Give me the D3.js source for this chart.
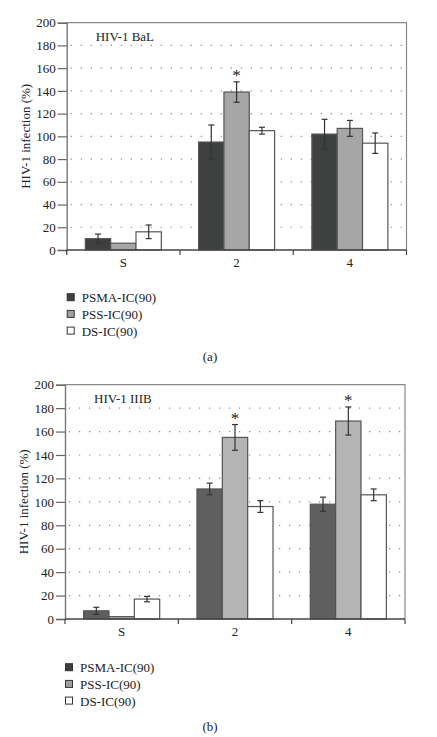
<!DOCTYPE html>
<html><head><meta charset="utf-8">
<script src="https://cdn.jsdelivr.net/npm/d3@7"></script>
<style>body{margin:0;background:#fff}svg{display:block}text{font-family:"Liberation Serif","Times New Roman",serif;fill:#222}</style>
</head><body>
<script>
const categories = ["S", "2", "4"];
const seriesNames = ["PSMA-IC(90)", "PSS-IC(90)", "DS-IC(90)"];
const yTicks = [0, 20, 40, 60, 80, 100, 120, 140, 160, 180, 200];

// Panel (a): HIV-1 BaL
const balPSMA = [10, 95, 102];
const balPSS = [6, 139, 107];
const balDS = [16, 105, 94];
const balPSMAerr = [4, 15, 13];
const balPSSerr = [0, 9, 7];
const balDSerr = [6, 3, 9];
const balStars = [[1, 1]]; // [category index, series index]

// Panel (b): HIV-1 IIIB
const iiibPSMA = [7, 111, 98];
const iiibPSS = [2, 155, 169];
const iiibDS = [17, 96, 106];
const iiibPSMAerr = [3, 5, 6];
const iiibPSSerr = [0, 11, 12];
const iiibDSerr = [2.3, 5, 5];
const iiibStars = [[1, 1], [2, 1]];

const svg = d3.select("body").append("svg").attr("width", 437).attr("height", 737);

function panel(cfg) {
  const g = svg.append("g");
  const y = d3.scaleLinear().domain([0, 200]).range([cfg.bottom, cfg.top]);
  const x = d3.scaleBand().domain(categories).range([cfg.left, cfg.right]).paddingInner(0.329).paddingOuter(0.1645);
  const xs = d3.scaleBand().domain(d3.range(3)).range([0, x.bandwidth()]).padding(0);
  const step = x.step();

  // gridlines
  g.selectAll("line.grid").data(yTicks.filter(t => t > 0 && t < 200)).join("line")
    .attr("x1", cfg.left + 4).attr("x2", cfg.right)
    .attr("y1", d => y(d)).attr("y2", d => y(d))
    .attr("stroke", "#8a8a8a").attr("stroke-width", 1.2).attr("stroke-dasharray", "1.2,8.8");

  // frame top & right
  g.append("path").attr("d", `M${cfg.left},${cfg.top}H${cfg.right}V${cfg.bottom}`)
    .attr("fill", "none").attr("stroke", "#888").attr("stroke-width", 1.2);

  // y axis
  const ya = g.append("g").attr("transform", `translate(${cfg.left},0)`)
    .call(d3.axisLeft(y).tickValues(yTicks).tickSize(9).tickPadding(2));
  ya.select(".domain").attr("stroke", "#777").attr("stroke-width", 1.4);
  ya.selectAll(".tick line").attr("stroke", "#666").attr("stroke-width", 1.2);
  ya.selectAll(".tick text").attr("font-size", 13).attr("fill", "#222").attr("font-family", "Liberation Serif, serif");

  // bars
  const vals = cfg.values, errs = cfg.errs;
  vals.forEach((arr, si) => {
    g.selectAll(null).data(arr).join("rect")
      .attr("x", (d, ci) => x(categories[ci]) + xs(si))
      .attr("width", xs.bandwidth())
      .attr("y", d => y(d)).attr("height", d => y(0) - y(d))
      .attr("fill", cfg.colors[si]).attr("stroke", "#555").attr("stroke-width", 1.2);
  });

  // x axis
  g.append("line").attr("x1", cfg.left).attr("x2", cfg.right).attr("y1", y(0)).attr("y2", y(0))
    .attr("stroke", "#444").attr("stroke-width", 1.3);
  g.selectAll("line.xt").data(d3.range(4)).join("line")
    .attr("x1", i => cfg.left + i * step).attr("x2", i => cfg.left + i * step)
    .attr("y1", y(0)).attr("y2", y(0) + 5).attr("stroke", "#444").attr("stroke-width", 1.2);
  g.selectAll("text.xl").data(categories).join("text")
    .attr("x", d => x(d) + x.bandwidth() / 2).attr("y", y(0) + 17)
    .attr("text-anchor", "middle").attr("font-size", 13).text(d => d);

  // error bars
  vals.forEach((arr, si) => {
    arr.forEach((v, ci) => {
      const e = errs[si][ci];
      if (!e) return;
      const cx = x(categories[ci]) + xs(si) + xs.bandwidth() / 2;
      const ge = g.append("g").attr("stroke", "#333").attr("stroke-width", 1.2);
      ge.append("line").attr("x1", cx).attr("x2", cx).attr("y1", y(v - e)).attr("y2", y(v + e));
      ge.append("line").attr("x1", cx - 3).attr("x2", cx + 3).attr("y1", y(v - e)).attr("y2", y(v - e));
      ge.append("line").attr("x1", cx - 3).attr("x2", cx + 3).attr("y1", y(v + e)).attr("y2", y(v + e));
    });
  });

  // stars
  cfg.stars.forEach(([ci, si]) => {
    const cx = x(categories[ci]) + xs(si) + xs.bandwidth() / 2;
    const top = y(vals[si][ci] + errs[si][ci]);
    g.append("text").attr("x", cx).attr("y", top - 1).attr("text-anchor", "middle")
      .attr("font-size", 17).text("*");
  });

  // title
  g.append("text").attr("x", cfg.left + 29).attr("y", cfg.top + 18).attr("font-size", 13).text(cfg.title);

  // y label
  g.append("text").attr("transform", `translate(${cfg.left - 37},${(y(0) + y(200)) / 2}) rotate(-90)`)
    .attr("text-anchor", "middle").attr("font-size", 13).text("HIV-1 infection (%)");

  // legend
  const lg = g.append("g").attr("transform", `translate(${cfg.left},${cfg.legendY})`);
  const items = lg.selectAll("g").data(seriesNames).join("g")
    .attr("transform", (d, i) => `translate(0,${i * 16.7})`);
  items.append("rect").attr("x", 0.5).attr("y", -4).attr("width", 7).attr("height", 7)
    .attr("fill", (d, i) => cfg.legendColors[i]).attr("stroke", "#333").attr("stroke-width", 1);
  items.append("text").attr("x", 15).attr("y", 4.5).attr("font-size", 13).text(d => d);

  // caption
  g.append("text").attr("x", 210).attr("y", cfg.captionY).attr("text-anchor", "middle")
    .attr("font-size", 13).text(cfg.caption);
}

panel({
  left: 66.7, right: 406.5, top: 22.7, bottom: 250,
  values: [balPSMA, balPSS, balDS], errs: [balPSMAerr, balPSSerr, balDSerr], stars: balStars,
  colors: ["#3e403f", "#a6a6a6", "#ffffff"], legendColors: ["#3e3e3e", "#a0a0a0", "#ffffff"],
  title: "HIV-1 BaL", legendY: 297.7, caption: "(a)", captionY: 361
});
panel({
  left: 65, right: 405, top: 384.7, bottom: 619,
  values: [iiibPSMA, iiibPSS, iiibDS], errs: [iiibPSMAerr, iiibPSSerr, iiibDSerr], stars: iiibStars,
  colors: ["#5f5f5f", "#b4b4b4", "#ffffff"], legendColors: ["#3e3e3e", "#a0a0a0", "#ffffff"],
  title: "HIV-1 IIIB", legendY: 667.7, caption: "(b)", captionY: 731
});
</script>
</body></html>
